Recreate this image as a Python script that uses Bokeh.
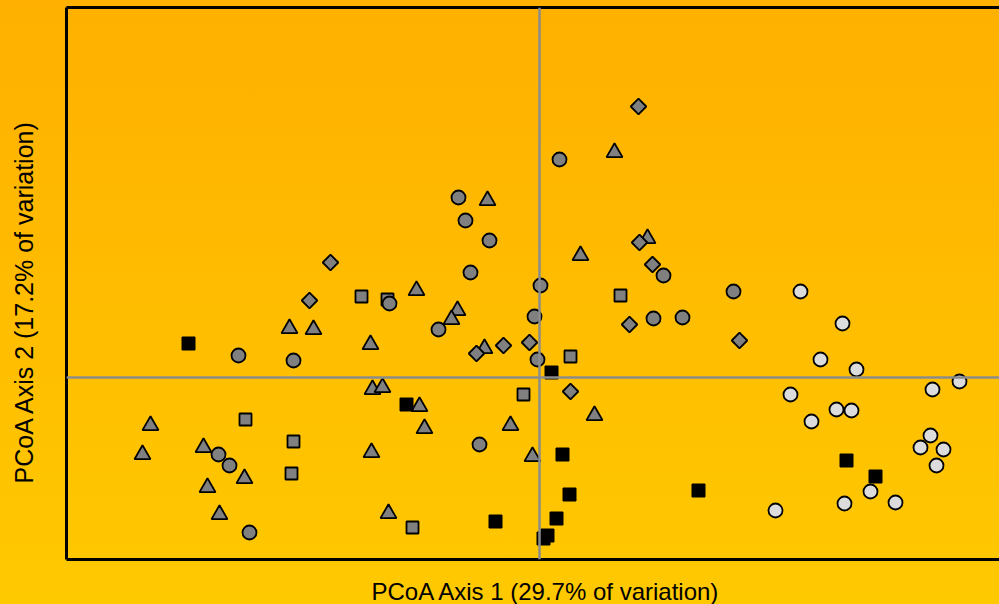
import numpy as np
from bokeh.plotting import figure
from bokeh.models import Range1d, Span, LinearAxis, Title, FixedTicker
from bokeh.embed import file_html
from bokeh.resources import INLINE

# PCoA scores
circ_x = [0.020, -0.081, -0.074, -0.050, -0.069, 0.001, -0.150, -0.101, -0.005, -0.002,
          0.124, 0.114, 0.143, 0.194, -0.301, -0.246, -0.060, -0.321, -0.310, -0.290]
circ_y = [0.218, 0.180, 0.157, 0.137, 0.105, 0.092, 0.074, 0.048, 0.061, 0.018,
          0.102, 0.059, 0.060, 0.086, 0.022, 0.017, -0.067, -0.077, -0.088, -0.155]

tri_x = [0.075, -0.052, 0.041, 0.108, -0.123, -0.082, -0.088, -0.250, -0.226, -0.169,
         -0.055, -0.167, -0.157, -0.120, -0.115, -0.029, 0.055, -0.168, -0.007, -0.151,
         -0.389, -0.397, -0.336, -0.295, -0.332, -0.320]
tri_y = [0.225, 0.177, 0.122, 0.139, 0.087, 0.067, 0.058, 0.049, 0.048, 0.033,
         0.029, -0.012, -0.010, -0.029, -0.051, -0.048, -0.038, -0.075, -0.079, -0.136,
         -0.048, -0.077, -0.070, -0.101, -0.110, -0.137]

sq_x = [-0.178, -0.152, 0.081, 0.031, -0.016, -0.294, -0.246, -0.248, -0.127]
sq_y = [0.081, 0.078, 0.082, 0.021, -0.017, -0.042, -0.064, -0.096, -0.150]

dia_x = [0.099, -0.209, -0.230, 0.100, 0.113, 0.090, 0.200, -0.063, -0.036, -0.010, 0.031]
dia_y = [0.271, 0.115, 0.077, 0.135, 0.113, 0.053, 0.037, 0.024, 0.032, 0.035, -0.014]

blk_x = [-0.351, 0.012, -0.133, 0.023, 0.030, 0.017, -0.044, 0.008, 0.004, 0.159, 0.307, 0.336]
blk_y = [0.034, 0.005, -0.027, -0.077, -0.117, -0.141, -0.144, -0.158, -0.161, -0.113, -0.083, -0.099]

lt_x = [0.261, 0.303, 0.281, 0.317, 0.251, 0.297, 0.312, 0.272, 0.420, 0.393,
        0.391, 0.381, 0.404, 0.397, 0.331, 0.305, 0.356, 0.236]
lt_y = [0.086, 0.054, 0.018, 0.008, -0.017, -0.032, -0.033, -0.044, -0.004, -0.012,
        -0.058, -0.070, -0.072, -0.088, -0.114, -0.126, -0.125, -0.133]

x_label = "PCoA Axis 1 (29.7% of variation)"
y_label = "PCoA Axis 2 (17.2% of variation)"

p = figure(width=999, height=604, output_backend="svg", toolbar_location=None,
           x_range=Range1d(-0.473, 0.460), y_range=Range1d(-0.182, 0.370),
           min_border_left=66, min_border_right=0, min_border_top=7, min_border_bottom=45,
           background_fill_alpha=0, border_fill_alpha=0, outline_line_color=None,
           styles={"background": "linear-gradient(180deg, #FFB000 0%, #FFC900 100%)"})

p.grid.visible = False

top_axis = LinearAxis()
p.add_layout(top_axis, "above")
for ax in p.axis:
    ax.ticker = []
    ax.axis_line_color = "black"
    ax.axis_line_width = 3
    ax.major_tick_out = 0
    ax.major_tick_in = 0
    ax.minor_tick_out = 0
    ax.minor_tick_in = 0
    ax.major_tick_line_color = None
    ax.minor_tick_line_color = None
    ax.major_label_standoff = 0
    ax.major_label_text_font_size = "0px"

# one invisible, unlabeled tick at the origin: its length only sets the gap
# between the frame and the axis titles
for ax, gap in ((p.below[0], 16), (p.left[0], 29)):
    ax.ticker = FixedTicker(ticks=[0])
    ax.major_label_overrides = {0: ""}
    ax.major_tick_out = gap

p.add_layout(Title(text=x_label, align="left", offset=305, standoff=0,
                   text_font="Liberation Sans", text_font_size="24px",
                   text_font_style="normal", text_color="black"), "below")
p.add_layout(Title(text=y_label, align="left", offset=76, standoff=0,
                   text_font="Liberation Sans", text_font_size="25px",
                   text_font_style="normal", text_color="black"), "left")

p.add_layout(Span(location=0, dimension="height", line_color="#8C8C8C", line_width=2.5))
p.add_layout(Span(location=0, dimension="width", line_color="#8C8C8C", line_width=2.5))

gray = "#808080"
p.scatter(tri_x, tri_y, marker="triangle", size=16, fill_color=gray, line_color="black", line_width=1.8)
p.scatter(sq_x, sq_y, marker="square", size=12, fill_color=gray, line_color="black", line_width=1.8)
p.scatter(circ_x, circ_y, marker="circle", size=14, fill_color=gray, line_color="black", line_width=1.8)
p.scatter(dia_x, dia_y, marker="square", angle=np.pi / 4, size=11, fill_color=gray, line_color="black", line_width=1.8)
p.scatter(blk_x, blk_y, marker="square", size=13, fill_color="black", line_color="black", line_width=1)
p.scatter(lt_x, lt_y, marker="circle", size=14, fill_color="#DCDCDC", line_color="black", line_width=1.8)

open("out.html", "w").write(file_html(p, INLINE))
